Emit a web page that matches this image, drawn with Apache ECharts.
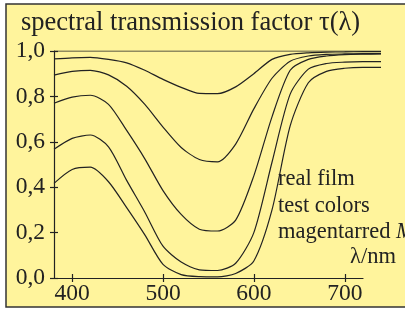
<!DOCTYPE html>
<html>
<head>
<meta charset="utf-8">
<script src="https://cdn.jsdelivr.net/npm/echarts@6/dist/echarts.min.js"></script>
<style>
  html, body { margin: 0; padding: 0; background: #fff; }
  #chart { width: 405px; height: 309px; }
</style>
</head>
<body>
<div id="chart"></div>
<script>
// wavelengths in nm
const wavelengths = [380, 400, 420, 440, 460, 480, 500, 520, 540, 560, 580, 600, 620, 640, 660, 680, 700, 720, 740]

// transmission curves, lightest to densest
const curve1 = [0.965, 0.970, 0.972, 0.963, 0.948, 0.915, 0.875, 0.840, 0.813, 0.812, 0.842, 0.900, 0.963, 0.985, 0.992, 0.995, 0.996, 0.997, 0.997]
const curve2 = [0.894, 0.910, 0.915, 0.895, 0.845, 0.765, 0.665, 0.575, 0.522, 0.512, 0.590, 0.745, 0.880, 0.955, 0.978, 0.985, 0.987, 0.988, 0.988]
const curve3 = [0.770, 0.797, 0.805, 0.765, 0.650, 0.525, 0.385, 0.280, 0.215, 0.207, 0.255, 0.450, 0.710, 0.915, 0.963, 0.978, 0.984, 0.986, 0.987]
const curve4 = [0.567, 0.615, 0.630, 0.578, 0.430, 0.290, 0.140, 0.070, 0.036, 0.033, 0.065, 0.200, 0.510, 0.810, 0.920, 0.945, 0.951, 0.953, 0.953]
const curve5 = [0.417, 0.478, 0.488, 0.424, 0.310, 0.190, 0.060, 0.015, 0.006, 0.005, 0.020, 0.075, 0.300, 0.670, 0.860, 0.910, 0.924, 0.928, 0.928]
const fullLine = wavelengths.map(() => 1.0)

const xTicks = [400, 500, 600, 700]
const legendLines = ['real film', 'test colors', 'magentarred {it|M}']

const ink = '#222'
const serif = 'Liberation Serif'

function pairs(values) {
  return wavelengths.map((w, i) => [w, values[i]])
}

function lineSeries(values) {
  return {
    type: 'line',
    xAxisIndex: 0,
    yAxisIndex: 0,
    data: pairs(values),
    showSymbol: false,
    smooth: 0.25,
    lineStyle: { color: ink, width: 1.2 },
    silent: true
  }
}

const chart = echarts.init(document.getElementById('chart'))

chart.setOption({
  animation: false,
  title: {
    text: 'spectral transmission factor τ(λ)',
    left: 16,
    top: 5,
    textStyle: { fontFamily: serif, fontSize: 26.5, fontWeight: 'normal', color: ink }
  },
  grid: [
    { left: 54, right: 24, top: 51, bottom: 31 },
    { left: 54, right: 42, top: 51, bottom: 31 }
  ],
  xAxis: [
    {
      type: 'value', gridIndex: 0, min: 380, max: 740,
      axisLine: { show: false }, axisTick: { show: false },
      axisLabel: { show: false }, splitLine: { show: false }
    },
    {
      type: 'value', gridIndex: 1, min: 380, max: 720, position: 'bottom',
      axisLine: { show: true, lineStyle: { color: ink, width: 1.2 } },
      axisTick: { show: true, length: 4, customValues: xTicks, lineStyle: { color: ink, width: 1.2 } },
      axisLabel: { customValues: xTicks, color: ink, fontFamily: serif, fontSize: 23.5, margin: 4 },
      splitLine: { show: false }
    },
    {
      type: 'value', gridIndex: 1, min: 380, max: 720, position: 'bottom',
      axisLine: { show: false },
      axisTick: { show: true, inside: true, length: 4, customValues: xTicks, lineStyle: { color: ink, width: 1.2 } },
      axisLabel: { show: false }, splitLine: { show: false }
    }
  ],
  yAxis: [
    {
      type: 'value', gridIndex: 0, min: 0, max: 1, interval: 0.2, position: 'left',
      axisLine: { show: true, lineStyle: { color: ink, width: 1.2 } },
      axisTick: { show: true, length: 4, lineStyle: { color: ink, width: 1.2 } },
      axisLabel: {
        color: ink, fontFamily: serif, fontSize: 23.5, margin: 9,
        formatter: (v) => v.toFixed(1).replace('.', ',')
      },
      splitLine: { show: false }
    },
    {
      type: 'value', gridIndex: 0, min: 0, max: 1, interval: 0.2, position: 'left',
      axisLine: { show: false },
      axisTick: { show: true, inside: true, length: 4, lineStyle: { color: ink, width: 1.2 } },
      axisLabel: { show: false }, splitLine: { show: false }
    },
    { type: 'value', gridIndex: 1, min: 0, max: 1, show: false }
  ],
  graphic: [
    {
      type: 'rect', z: -10, silent: true,
      shape: { x: 6, y: 4, width: 420, height: 303 },
      style: { fill: '#fff49c', stroke: '#333', lineWidth: 1.5 }
    },
    ...legendLines.map((t, i) => ({
      type: 'text', left: 278, top: 168 + i * 26.5, silent: true,
      style: {
        text: t, fill: ink, font: '22.5px "Liberation Serif"',
        rich: { it: { fontStyle: 'italic', fontFamily: serif, fontSize: 22.5 } }
      }
    })),
    {
      type: 'text', left: 350, top: 246, silent: true,
      style: { text: 'λ/nm', fill: ink, font: '22.5px "Liberation Serif"' }
    }
  ],
  series: [
    lineSeries(fullLine),
    lineSeries(curve1),
    lineSeries(curve2),
    lineSeries(curve3),
    lineSeries(curve4),
    lineSeries(curve5)
  ]
})
</script>
</body>
</html>
